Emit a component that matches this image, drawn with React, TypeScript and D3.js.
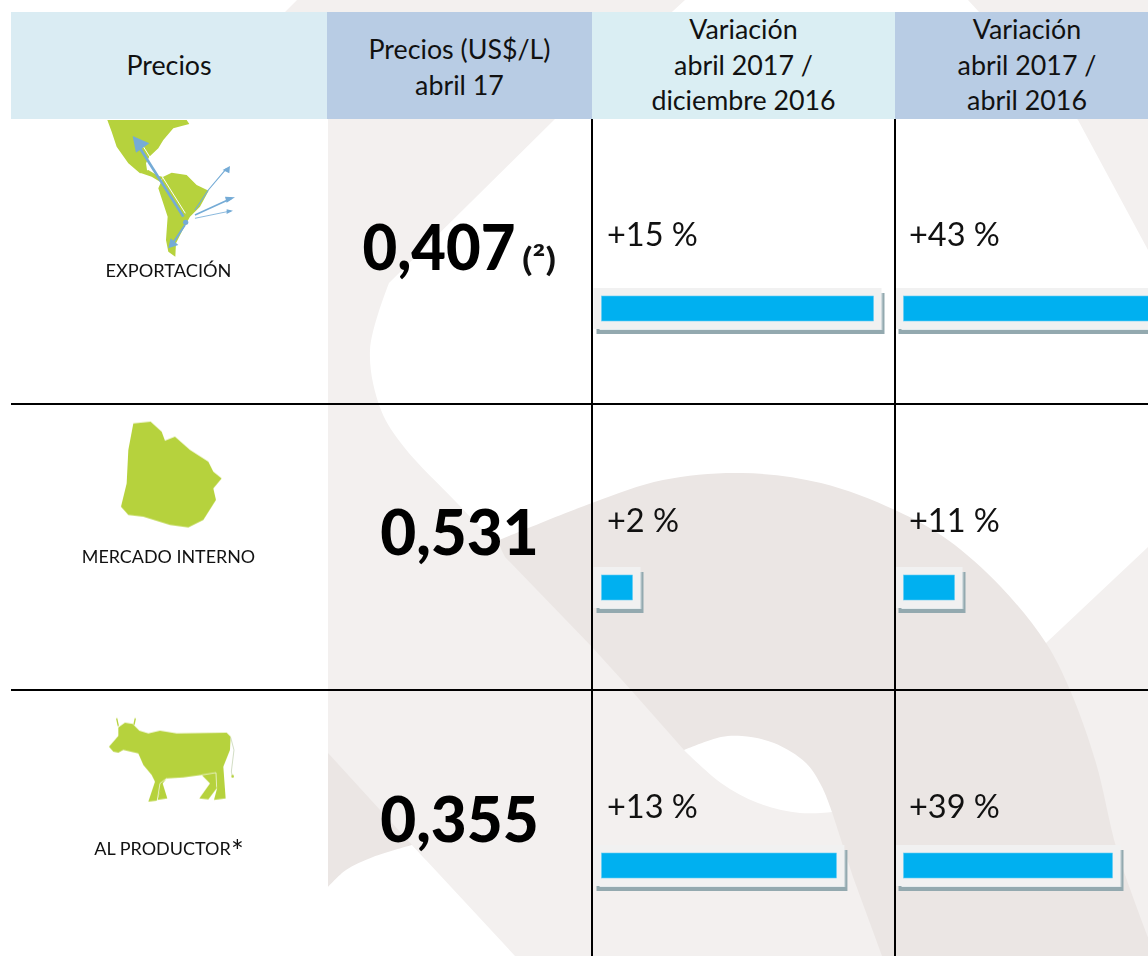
import React from "react";
import * as d3 from "d3";

const categories = ["EXPORTACIÓN", "MERCADO INTERNO", "AL PRODUCTOR"];
const prices = [0.407, 0.531, 0.355];
const varDic = [15, 2, 13];
const varAbr = [43, 11, 39];

const headers = [
  { x0: 11, x1: 327, fill: "#daecf3", base: 75, lines: ["Precios"] },
  { x0: 327, x1: 592, fill: "#b8cce4", base: 59, lines: ["Precios (US$/L)", "abril 17"] },
  { x0: 592, x1: 895, fill: "#daeef3", base: 39, lines: ["Variación", "abril 2017 /", "diciembre 2016"] },
  { x0: 895, x1: 1148, fill: "#b8cce4", base: 39, lines: ["Variación", "abril 2017 /", "abril 2016"] },
];

const FONT = "Lato, Carlito, sans-serif";
const LIGHT = "#f3f0ef";
const DARK = "#ebe6e4";
const GREEN = "#b6d23c";
const ARROW = "#74abd6";

const rowLines = [404, 690];
const colLines = [592, 895];
const priceBase = [270, 555, 842];
const priceCenter = [439, 459.5, 459.5];
const priceSquash = [0.95, 0.985, 0.985];
const pctBase = [246, 532, 818];
const barTop = [296, 575, 853];
const labelBase = [277, 563, 855];
const labelSize = [18.2, 17.9, 18];

// the bars in the picture are not quite proportional, so the scales are calibrated per column
const xDic = d3.scaleLinear().domain([0, 2, 15]).range([0, 31, 272]);
const xAbr = d3.scaleLinear().domain([0, 11, 39, 43]).range([0, 51, 209, 260]);

const priceFmt = (v: number) => d3.format(".3f")(v).replace(".", ",");

const smooth = d3.line().curve(d3.curveCatmullRom);

// watermark outlines
const whiteLeft: [number, number][] = [[500, 548], [457, 503], [404, 447], [381, 410], [370, 350], [389, 283]];
const darkArc: [number, number][] = [
  [497, 541], [592, 503], [663, 480], [742, 473], [821, 483], [895, 510], [948, 540],
  [1001, 587], [1046, 643], [1070, 690], [1096, 763], [1117, 850], [1148, 937],
];
const holeTop: [number, number][] = [[684, 750], [721, 737], [742, 736], [774, 743], [806, 763], [822, 787], [832, 812]];
const holeBottom: [number, number][] = [[832, 812], [800, 813], [758, 803], [721, 783], [684, 750]];
const cornerArc: [number, number][] = [[328, 887], [346, 870], [373, 857], [412, 845]];

const join = (d: string | null) => (d || "").replace("M", "L");

const Bar = ({ x, y, w }: { x: number; y: number; w: number }) => (
  <g>
    <rect x={x - 5} y={y - 3} width={w + 16} height={41} fill="#93a9af" />
    <rect x={x - 8} y={y - 8} width={w + 16} height={41} fill="#f1f1f1" />
    <rect x={x - 2} y={y + 33} width={w + 10} height={1} fill="#e4ebed" />
    <rect x={x + w + 8} y={y - 3} width={0.8} height={37} fill="#e4ebed" />
    <rect x={x} y={y} width={w} height={25} fill="#00b0f0" stroke="#62cdf5" strokeWidth={0.6} />
  </g>
);

export default function App() {
  return (
    <svg
      width={1148}
      height={956}
      style={{ position: "absolute", left: 0, top: 0, background: "#fff" }}
      fontFamily={FONT}
    >
      <defs>
        <filter id="soft" x="-5%" y="-5%" width="110%" height="110%">
          <feGaussianBlur stdDeviation="0.45" />
        </filter>
      </defs>

      {/* watermark */}
      <path d="M297,0 L1148,0 L1148,956 L328,956 L328,119 L285,12 Z" fill={LIGHT} />
      <path
        d={`M685,0 L968,0 L1078,120 L1148,250 L1148,547 L1046,643 L900,700 L540,560 ${join(smooth(whiteLeft))} L555,119 Z`}
        fill="#fff"
      />
      <path
        d={`${smooth(darkArc)} L1148,956 L882,956 L853,877 L832,812 L684,750 L631,690 L592,647 L505,557 Z`}
        fill={DARK}
      />
      <path d={`${smooth(holeTop)} ${join(smooth(holeBottom))} Z`} fill="#fff" />
      <path d="M328,753 L412,845 L426,860 L328,900 Z" fill={DARK} />
      <path d={`${smooth(cornerArc)} L515,956 L328,956 Z`} fill="#fff" />

      {/* header */}
      {headers.map((h) => (
        <g key={h.x0}>
          <rect x={h.x0} y={12} width={h.x1 - h.x0} height={107} fill={h.fill} />
          {h.lines.map((t, i) => (
            <text
              key={t}
              x={(h.x0 + h.x1) / 2 + (h.x0 === 895 ? 5.5 : 0)}
              y={h.base + i * 35.7}
              textAnchor="middle"
              fontSize={26.8}
              fill="#111"
            >
              {t}
            </text>
          ))}
        </g>
      ))}

      {/* icons */}
      <g filter="url(#soft)">
        <g transform="scale(0.3333)" fill={GREEN}>
          <path d="M322,360 L335,395 L350,440 L385,490 L420,520 L442,517 L438,490 L448,470 L475,445 L490,420 L520,385 L545,378 L568,372 L560,360 Z" />
          <path d="M420,518 L455,530 L480,545 L490,530 L475,528 L445,510 Z" />
          <path d="M475,565 L490,530 L515,518 L560,525 L590,555 L626,572 L600,620 L570,650 L548,690 L528,730 L526,770 L505,755 L498,720 L503,650 Z" />
        </g>
        <g transform="scale(0.3333)" stroke={ARROW} fill="none">
          <path d="M550,650 L412,432" strokeWidth={8} />
          <path d="M556,640 L425,432" strokeWidth={3} stroke="#fff" />
          <path d="M585,630 L625,570 L680,505" strokeWidth={3.5} />
          <path d="M585,645 L695,595" strokeWidth={5} />
          <path d="M585,655 L692,633" strokeWidth={2.5} />
          <path d="M555,675 L515,735" strokeWidth={6} />
        </g>
        <g transform="scale(0.3333)" fill={ARROW}>
          <path d="M398,408 L448,430 L408,458 Z" />
          <path d="M690,498 L688,520 L668,510 Z" />
          <path d="M705,592 L680,608 L675,590 Z" />
          <path d="M699,632 L680,642 L680,628 Z" />
          <path d="M505,745 L512,715 L535,735 Z" />
          <circle cx={557} cy={667} r={8} />
        </g>

        <path
          transform="translate(60,410) scale(0.3333)"
          fill={GREEN}
          d="M220,40 L272,35 L305,65 L315,92 L345,80 L390,120 L445,155 L460,185 L485,205 L460,235 L468,270 L430,330 L385,352 L330,345 L250,320 L205,315 L183,290 L200,220 L205,120 Z"
        />

        <g transform="translate(60,700) scale(0.3333)">
          <path
            fill={GREEN}
            d="M147,140 L175,108 L175,82 L195,68 L218,72 L238,92 L265,100 L300,92 L350,100 L500,98 L512,110 L510,150 L490,200 L497,295 L462,300 L472,262 L445,298 L418,295 L450,250 L425,225 L370,232 L320,235 L308,250 L322,295 L292,300 L302,270 L290,302 L265,305 L285,245 L275,225 L250,195 L235,160 L190,150 L175,158 L160,155 Z"
          />
          <path d="M175,78 L170,55 M222,74 L226,55" stroke={GREEN} strokeWidth={4} fill="none" />
          <path d="M512,112 L522,150 L514,215 L518,232" stroke="#c9d6b8" strokeWidth={2.5} fill="none" />
          <path d="M425,225 L468,218 L470,262 M320,235 L300,250 L292,300" stroke="#fff" strokeWidth={2} fill="none" />
          <circle cx={518} cy={229} r={4} fill={GREEN} />
        </g>
      </g>

      {/* rows */}
      {categories.map((c, i) => (
        <g key={c}>
          <text x={i === 2 ? 162.5 : 168.5} y={labelBase[i]} textAnchor="middle" fontSize={labelSize[i]} fill="#111">
            {c}
          </text>
          {i === 2 && (
            <text x={231} y={862} fontSize={30} fill="#111">
              *
            </text>
          )}
          <text
            transform={`translate(${priceCenter[i]},${priceBase[i]}) scale(${priceSquash[i]},1)`}
            textAnchor="middle"
            fontSize={63}
            fontWeight={900}
            fill="#000"
          >
            {priceFmt(prices[i])}
          </text>
          {i === 0 && (
            <text x={522} y={271} fontSize={33} fontWeight={700} fill="#111" textLength={34} lengthAdjust="spacingAndGlyphs">
              (²)
            </text>
          )}
          <text x={607} y={pctBase[i]} fontSize={32.5} fill="#111">{`+${varDic[i]} %`}</text>
          <text x={909} y={pctBase[i]} fontSize={32.5} fill="#111">{`+${varAbr[i]} %`}</text>
          <Bar x={601.5} y={barTop[i]} w={xDic(varDic[i])} />
          <Bar x={903.5} y={barTop[i]} w={xAbr(varAbr[i])} />
        </g>
      ))}

      {/* grid lines */}
      {rowLines.map((y) => (
        <rect key={y} x={11} y={y - 1} width={1137} height={2} fill="#000" />
      ))}
      {colLines.map((x) => (
        <rect key={x} x={x - 1} y={119} width={2} height={837} fill="#000" />
      ))}
    </svg>
  );
}
